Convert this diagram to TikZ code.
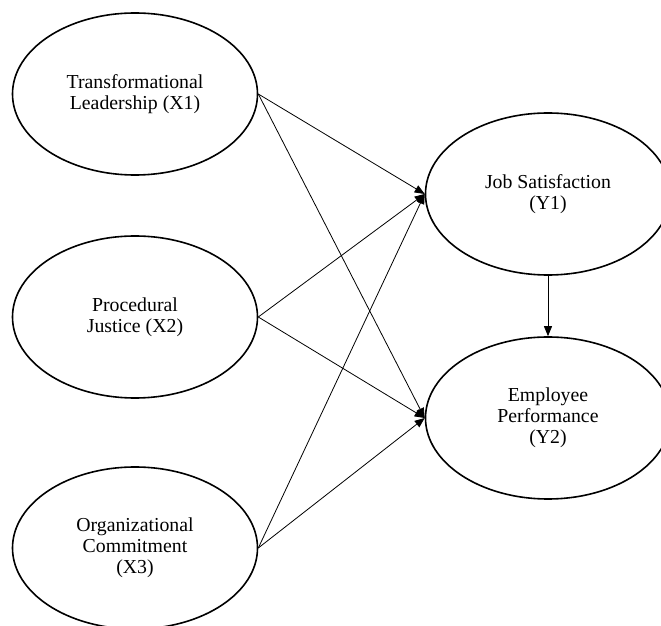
\documentclass[tikz,border=0pt]{standalone}
\usepackage{fontspec}
\setmainfont{Liberation Serif}
\usetikzlibrary{shapes.geometric,arrows.meta}

\begin{document}
\begin{tikzpicture}[
          x=0.5pt, y=-0.5pt,
          font=\fontsize{9.9}{10.6}\selectfont,
          latent/.style={ellipse, draw, line width=0.8pt, minimum width=245pt*0.5, minimum height=162pt*0.5, align=center, inner sep=0pt},
          path/.style={line width=0.4pt, -{Triangle[length=5pt,width=4pt]}},
      ]

      % Zeichenfläche festlegen (Ellipsen rechts und unten abgeschnitten)
      \useasboundingbox (0,0) rectangle (661,626);
      \clip (0,0) rectangle (661,626);

      % Exogene Variablen (links)
      \node[latent] (x1) at (135,94) {Transformational\\Leadership (X1)};
      \node[latent] (x2) at (135,317) {Procedural\\Justice (X2)};
      \node[latent] (x3) at (135,548) {Organizational\\Commitment\\(X3)};

      % Endogene Variablen (rechts)
      \node[latent] (y1) at (548,194) {Job Satisfaction\\(Y1)};
      \node[latent] (y2) at (548,418) {Employee\\Performance\\(Y2)};

      % Pfade von X nach Y
      \foreach \src in {x1,x2,x3} {
          \draw[path] (\src.east) -- (y1.west);
          \draw[path] (\src.east) -- (y2.west);
      }

      % Pfad Y1 -> Y2
      \draw[path] (y1.south) -- (y2.north);

      \end{tikzpicture}
\end{document}
